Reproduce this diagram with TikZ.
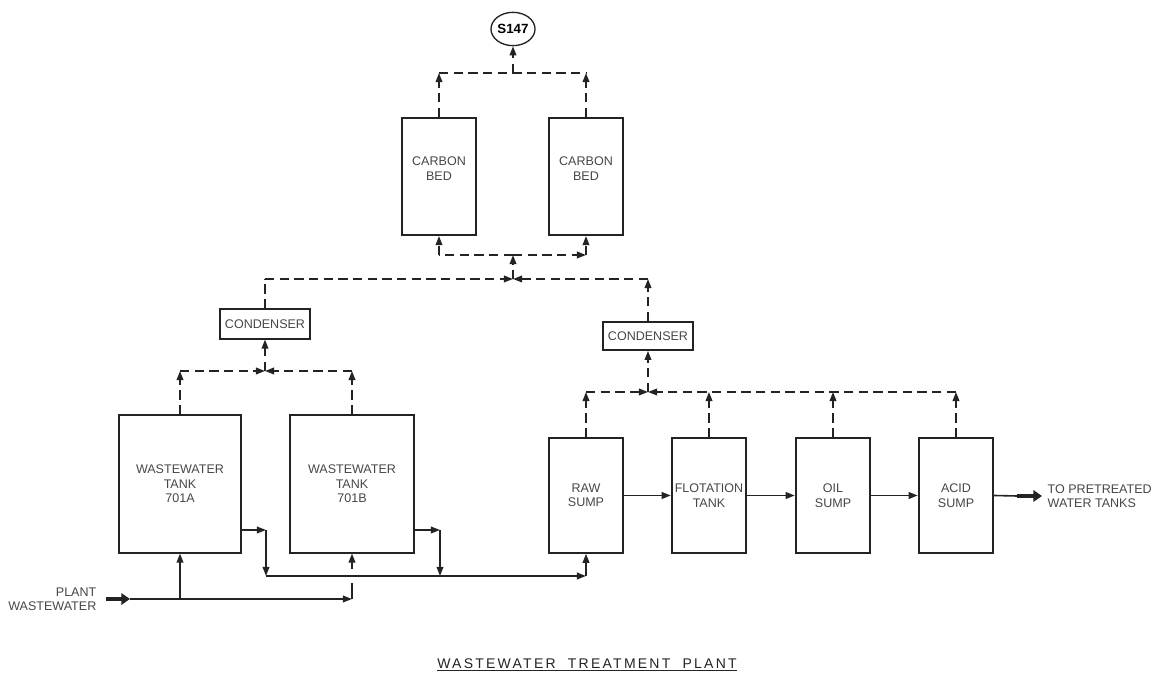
\documentclass[tikz,border=0pt]{standalone}
\usepackage{fontspec}
\setmainfont{Liberation Sans}
\usepackage{tikz}
\usetikzlibrary{positioning,arrows.meta,shapes.geometric,calc}
\definecolor{plantink}{RGB}{35,35,35}
\definecolor{planttext}{RGB}{70,70,70}

\begin{document}
\begin{tikzpicture}[x=0.75pt,y=-0.75pt,font=\fontsize{9.4}{10.8}\selectfont,
            box/.style={rectangle,draw=plantink,line width=1.35pt,
                        align=center,text=planttext,inner sep=0pt},
            cond/.style={box,minimum width=68pt,minimum height=22pt},
            arr/.style={-{Triangle[length=6.8pt,width=5pt]}},
            dline/.style={plantink,line width=1.2pt,dash pattern=on 7pt off 4pt},
            sline/.style={plantink,line width=1.2pt},
            fat/.style={plantink,line width=3.6pt,-{Triangle[length=6.5pt,width=8.5pt]}}]
            \useasboundingbox (0,0) rectangle (1161,680);
            % stack and carbon beds
            \node[ellipse,draw=plantink,line width=1pt,minimum width=33pt,
                  minimum height=25pt,inner sep=0pt,font=\fontsize{10}{12}\selectfont\bfseries]
                       (stack) at (513,29) {S147};
            \node[box,minimum width=55pt,minimum height=88pt] (bedL) at (439,176.5) {CARBON\\BED\\[1.2pt]\mbox{}};
            \node[box,minimum width=55pt,minimum height=88pt] (bedR) at (586,176.5) {CARBON\\BED\\[1.2pt]\mbox{}};
            \node[cond] (condL) at (265,324) {CONDENSER};
            \node[cond,minimum width=68pt,minimum height=21pt] (condR) at (648,336) {CONDENSER};
            % tanks
            \node[box,minimum width=91pt,minimum height=103pt] (tankA) at (180,484) {WASTEWATER\\TANK\\701A};
            \node[box,minimum width=93pt,minimum height=103pt] (tankB) at (352,484) {WASTEWATER\\TANK\\701B};
            % sumps
            \node[box,minimum width=56pt,minimum height=86pt] (raw) at (586,495.5) {RAW\\SUMP};
            \node[box,minimum width=56pt,minimum height=86pt] (flot) at (709,495.5) {FLOTATION\\TANK};
            \node[box,minimum width=56pt,minimum height=86pt] (oil) at (833,495.5) {OIL\\SUMP};
            \node[box,minimum width=56pt,minimum height=86pt] (acid) at (956,495.5) {ACID\\SUMP};
            % labels
            \node[anchor=east,align=right,text=planttext] (plant) at (101,599) {PLANT\\WASTEWATER};
            \node[anchor=west,align=left,text=planttext] (pretreat) at (1043,496) {TO PRETREATED\\WATER TANKS};
            \node[text=plantink,font=\fontsize{10.5}{12}\selectfont\addfontfeatures{LetterSpace=16}]
                       (title) at (587,665) {\underline{WASTEWATER\ \ TREATMENT\ \ PLANT}};

            % junction points
            \coordinate (topL) at (439,73);
            \coordinate (topJ) at (513,73);
            \coordinate (topR) at (586,73);
            \coordinate (botL) at (439,255);
            \coordinate (botJ) at (513,255);
            \coordinate (botR) at (586,255);
            \coordinate (midL) at (265,279);
            \coordinate (midC) at (513,279);
            \coordinate (midR) at (648,279);
            \coordinate (jA) at (180,371);
            \coordinate (jL) at (265,371);
            \coordinate (jB) at (352,371);
            \coordinate (jRaw) at (586,392);
            \coordinate (jR) at (648,392);
            \coordinate (jFlot) at (709,392);
            \coordinate (jOil) at (833,392);
            \coordinate (jAcid) at (956,392);
            \coordinate (oA) at (266,530);
            \coordinate (hA) at (266,576);
            \coordinate (oB) at (440,530);
            \coordinate (hB) at (440,576);
            \coordinate (hRaw) at (586,576);
            \coordinate (inS) at (106,599);
            \coordinate (inE) at (130,599);
            \coordinate (pA) at (180,599);
            \coordinate (pB) at (352,599);
            \coordinate (gapLo) at (352,583);
            \coordinate (gapHi) at (352,569);
            \coordinate (outS) at (1017,496);
            \coordinate (outE) at (1042,496);

            % vapour lines
            \draw[dline,arr] (bedL.north) -- (topL);
            \draw[dline,arr] (bedR.north) -- (topR);
            \draw[dline] (topL) -- (topR);
            \draw[dline,arr] (topJ) -- (stack.south);
            \draw[dline,arr] (midC) -- (botJ);
            \draw[dline] (botJ) -- (botL);
            \draw[dline,arr] (botL) -- (bedL.south);
            \draw[dline,arr] (botJ) -- (botR);
            \draw[dline,arr] (botR) -- (bedR.south);
            \draw[dline] (condL.north) -- (midL);
            \draw[dline,arr] (midL) -- (midC);
            \draw[dline,arr] (condR.north) -- (midR);
            \draw[dline,arr] (midR) -- (midC);
            \draw[dline,arr] (tankA.north) -- (jA);
            \draw[dline,arr] (tankB.north) -- (jB);
            \draw[dline,arr] (jA) -- (jL);
            \draw[dline,arr] (jB) -- (jL);
            \draw[dline,arr] (jL) -- (condL.south);
            \draw[dline,arr] (raw.north) -- (jRaw);
            \draw[dline,arr] (flot.north) -- (jFlot);
            \draw[dline,arr] (oil.north) -- (jOil);
            \draw[dline,arr] (acid.north) -- (jAcid);
            \draw[dline,arr] (jRaw) -- (jR);
            \draw[dline,arr] (jAcid) -- (jR);
            \draw[dline,arr] (jR) -- (condR.south);

            % water lines
            \draw[fat] (inS) -- (inE);
            \draw[sline,arr] (inE) -- (pB);
            \draw[sline,arr] (pA) -- (tankA.south);
            \draw[sline] (pB) -- (gapLo);
            \draw[sline,arr] (gapHi) -- (tankB.south);
            \draw[sline,arr] (tankA.east |- oA) -- (oA);
            \draw[sline,arr] (oA) -- (hA);
            \draw[sline,arr] (tankB.east |- oB) -- (oB);
            \draw[sline,arr] (oB) -- (hB);
            \draw[sline,arr] (hA) -- (hRaw);
            \draw[sline,arr] (hRaw) -- (raw.south);
            \draw[sline,arr] (raw.east) -- (flot.west);
            \draw[sline,arr] (flot.east) -- (oil.west);
            \draw[sline,arr] (oil.east) -- (acid.west);
            \draw[sline] (acid.east) -- (outS);
            \draw[fat] (outS) -- (outE);
        \end{tikzpicture}
\end{document}
